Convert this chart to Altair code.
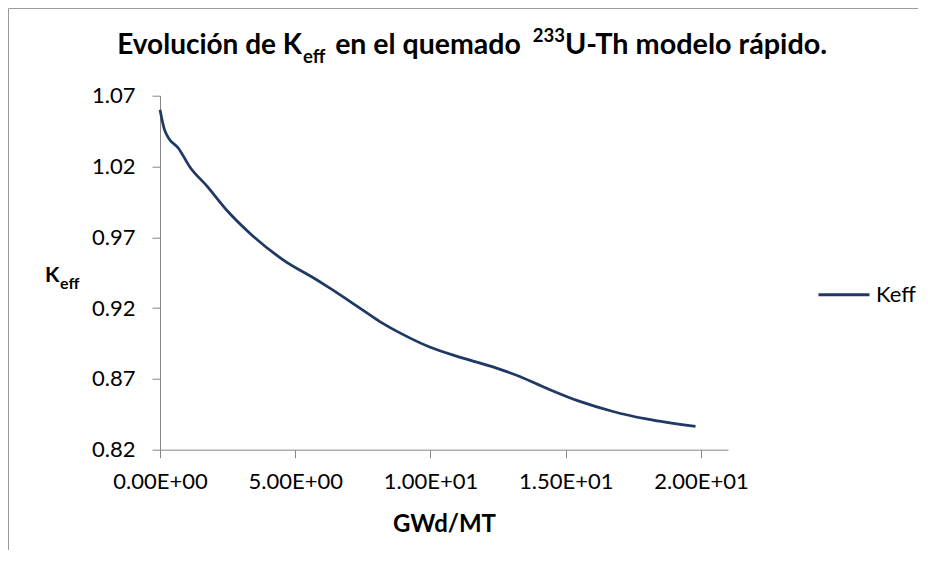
import altair as alt
import pandas as pd

# ---------------- data ----------------
burnup = [0.00, 0.15, 0.30, 0.68, 1.11, 1.73, 2.46, 3.32, 4.55, 5.79, 6.28, 7.39,
          8.13, 8.87, 9.97, 11.20, 12.44, 13.30, 14.28, 15.52, 16.75, 17.98, 19.80]
keff = [1.0600, 1.0470, 1.0406, 1.0329, 1.0195, 1.0063, 0.9893, 0.9729, 0.9541, 0.9400,
        0.9341, 0.9200, 0.9105, 0.9025, 0.8925, 0.8847, 0.8776, 0.8717, 0.8635, 0.8541,
        0.8470, 0.8417, 0.8364]
series_name = "Keff"

x_ticks = [0, 5, 10, 15, 20]
x_tick_labels = ["0.00E+00", "5.00E+00", "1.00E+01", "1.50E+01", "2.00E+01"]
y_ticks = [0.82, 0.87, 0.92, 0.97, 1.02, 1.07]

x_title = "GWd/MT"
y_title_main = "K"
y_title_sub = "eff"
title_a = "Evolución de K"
title_sub = "eff"
title_b = "en el quemado"
title_sup = "233"
title_c = "U-Th modelo rápido."

# ---------------- chart ----------------
FONT = "Lato"
LINE_COLOR = "#1F3864"
AXIS_COLOR = "#868686"
W, H = 568, 354

df = pd.DataFrame({"x": burnup, "y": keff, "serie": series_name})
one = pd.DataFrame({"k": [0]})

label_expr = ""
for v, s in zip(x_ticks, x_tick_labels):
    label_expr += f"datum.value == {v} ? '{s}' : "
label_expr += "''"

line = alt.Chart(df).mark_line(strokeWidth=2.75, interpolate="monotone").encode(
    x=alt.X("x:Q",
            scale=alt.Scale(domain=[0, 21], nice=False, zero=False),
            axis=alt.Axis(values=x_ticks, labelExpr=label_expr, title=x_title,
                          titleFont=FONT, titleFontSize=24, titleFontWeight="bold",
                          titleColor="black", titleBaseline="alphabetic",
                          titleX=W / 2, titleY=82, titleAlign="center",
                          labelPadding=14, labelOverlap=False, labelFlush=False,
                          labelBound=False, grid=False)),
    y=alt.Y("y:Q",
            scale=alt.Scale(domain=[0.82, 1.07], nice=False, zero=False),
            axis=alt.Axis(values=y_ticks, format=".2f", title=None, labelPadding=17,
                          labelOverlap=False, labelFlush=False, grid=False)),
    color=alt.Color("serie:N",
                    scale=alt.Scale(range=[LINE_COLOR]),
                    legend=alt.Legend(title=None, orient="none", legendX=657, legendY=172,
                                      symbolType="stroke", symbolSize=2601,
                                      symbolStrokeWidth=3, symbolStrokeColor=LINE_COLOR,
                                      labelFont=FONT, labelFontSize=22, labelColor="black",
                                      labelOffset=5, padding=0)),
)


def txt(text, x, y, size, align="left", weight="bold"):
    return alt.Chart(one).mark_text(
        text=text, font=FONT, fontSize=size, fontWeight=weight, align=align,
        baseline="alphabetic", color="black"
    ).encode(x=alt.value(x), y=alt.value(y))


# Title pieces (plot-area coordinates; origin at (160, 95.7) on the page)
t1 = txt(title_a, 142, -41.7, 28, align="right")
t2 = txt(title_sub, 143, -32.7, 18.5)
t3 = txt(title_b, 268, -41.7, 28.5, align="center")
t4 = txt(title_sup, 405, -53.5, 18.5, align="right")
t5 = txt(title_c, 405, -41.7, 28.8)

# Y axis title K_eff
y1 = txt(y_title_main, -115, 186.3, 21)
y2 = txt(y_title_sub, -100, 193.3, 16)

# Outer chart border (top and left edges visible)
frame_top = alt.Chart(one).mark_rule(color="#9A9A9A", strokeWidth=1).encode(
    x=alt.value(-151.5), x2=alt.value(W + 200), y=alt.value(-87.2))
frame_left = alt.Chart(one).mark_rule(color="#9A9A9A", strokeWidth=1).encode(
    x=alt.value(-151.5), y=alt.value(-87.2), y2=alt.value(H + 200))

chart = alt.layer(line, t1, t2, t3, t4, t5, y1, y2, frame_top, frame_left).properties(
    width=W, height=H,
    autosize=alt.AutoSizeParams(type="none"),
    padding={"left": 152, "top": 87.7, "right": 190, "bottom": 100},
).configure(background="white").configure_view(stroke=None).configure_axis(
    grid=False,
    domainColor=AXIS_COLOR, tickColor=AXIS_COLOR, domainWidth=1, tickWidth=1,
    tickSize=8, labelFont=FONT, labelFontSize=22, labelColor="black",
)

chart.save("out.html", embed_options={"renderer": "svg", "actions": False})
